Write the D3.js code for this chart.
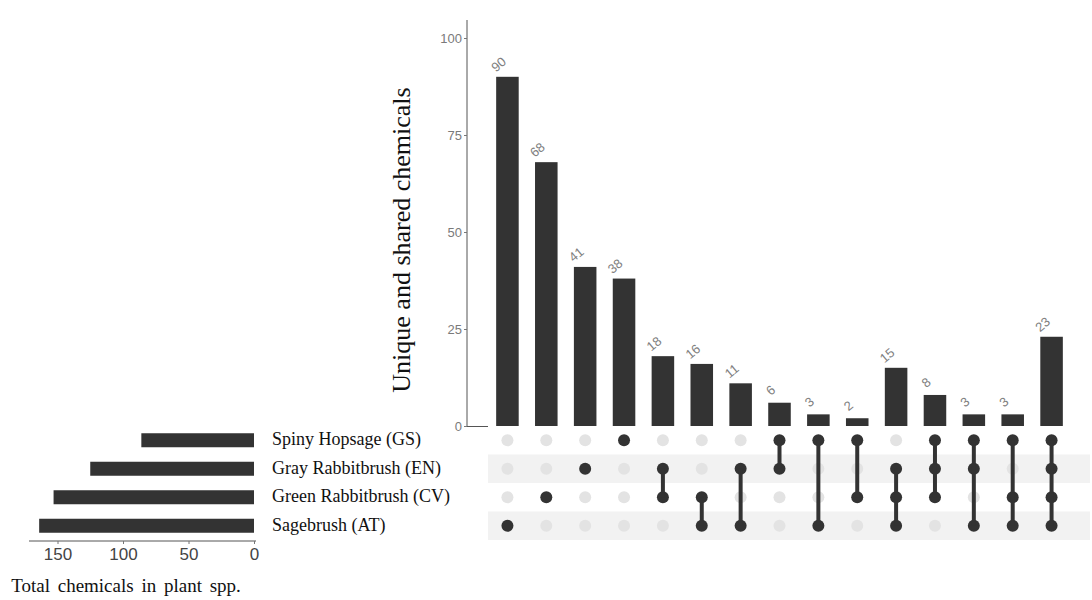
<!DOCTYPE html>
<html><head><meta charset="utf-8">
<script src="https://cdn.jsdelivr.net/npm/d3@7"></script>
<style>body{margin:0;background:#fff}</style>
</head><body>
<svg id="c" width="1092" height="600"></svg>
<script>
const sets = ["Spiny Hopsage (GS)", "Gray Rabbitbrush (EN)", "Green Rabbitbrush (CV)", "Sagebrush (AT)"];
const setKeys = ["GS", "EN", "CV", "AT"];
const setTotals = [86, 125, 153, 164];
const intersections = [["AT"],["CV"],["EN"],["GS"],["EN","CV"],["CV","AT"],["EN","AT"],["GS","EN"],["GS","AT"],["GS","CV"],["EN","CV","AT"],["GS","EN","CV"],["GS","EN","AT"],["GS","CV","AT"],["GS","EN","CV","AT"]];
const counts = [90, 68, 41, 38, 18, 16, 11, 6, 3, 2, 15, 8, 3, 3, 23];
const yTicks = [0, 25, 50, 75, 100];
const xTicksLeft = [0, 50, 100, 150];

const svg = d3.select("#c");
const dark = "#333333";

// Main bar chart
const x = d3.scaleBand().domain(d3.range(counts.length)).range([488, 1071]).paddingInner(0.42).paddingOuter(0.21);
const y = d3.scaleLinear().domain([0, 100]).range([426, 38]);

const yAx = svg.append("g").attr("transform","translate(467,0)")
  .call(d3.axisLeft(y).tickValues(yTicks).tickSize(3).tickPadding(2));
yAx.select(".domain").attr("stroke","#555").attr("d","M0,20V426");
yAx.selectAll(".tick line").attr("stroke","#777");
yAx.selectAll(".tick text").attr("fill","#7a7a7a").style("font-family","Liberation Sans, Arial").style("font-size","13px");

svg.append("line").attr("x1",467).attr("x2",1090).attr("y1",426.5).attr("y2",426.5).attr("stroke","#555");

svg.selectAll("rect.bar").data(counts).enter().append("rect")
  .attr("x",(d,i)=>x(i)).attr("width",x.bandwidth())
  .attr("y",d=>y(d)).attr("height",d=>y(0)-y(d)).attr("fill",dark);

svg.selectAll("text.cnt").data(counts).enter().append("text")
  .attr("transform",(d,i)=>`translate(${x(i)+x.bandwidth()/2 - 6},${y(d)-9}) rotate(-40)`)
  .attr("text-anchor","middle")
  .attr("fill","#808080").style("font-family","Liberation Sans, Arial").style("font-size","13px")
  .text(d=>d);

svg.append("text").attr("transform","translate(410,240) rotate(-90)")
  .attr("text-anchor","middle").style("font-family","Liberation Serif, Times New Roman, serif")
  .style("font-size","26px").attr("fill","#111").text("Unique and shared chemicals");

// Matrix
const r = d3.scaleBand().domain(setKeys).range([426, 540]).paddingOuter(0);
const rowY = k => r(k) + r.bandwidth()/2;
svg.selectAll("rect.stripe").data(setKeys).enter().append("rect")
  .attr("x",488).attr("width",602).attr("y",k=>r(k)).attr("height",r.bandwidth())
  .attr("fill",(k,i)=> i%2===1 ? "#f2f2f2" : "#ffffff");

intersections.forEach((inter,i)=>{
  const cx = x(i)+x.bandwidth()/2;
  setKeys.forEach(k=>{
    svg.append("circle").attr("cx",cx).attr("cy",rowY(k)).attr("r",6)
      .attr("fill", inter.includes(k) ? dark : "#e3e3e3");
  });
  if (inter.length>1){
    const ys = inter.map(rowY);
    svg.append("line").attr("x1",cx).attr("x2",cx).attr("y1",d3.min(ys)).attr("y2",d3.max(ys))
      .attr("stroke",dark).attr("stroke-width",4);
  }
});

// Set labels
svg.selectAll("text.setl").data(sets).enter().append("text")
  .attr("x",272).attr("y",(d,i)=>rowY(setKeys[i])+5)
  .style("font-family","Liberation Serif, Times New Roman, serif").style("font-size","18px")
  .attr("fill","#111").text(d=>d);

// Left bars
const xl = d3.scaleLinear().domain([0, 150]).range([254, 57.5]);
svg.selectAll("rect.tot").data(setTotals).enter().append("rect")
  .attr("x",d=>xl(d)).attr("width",d=>xl(0)-xl(d))
  .attr("y",(d,i)=>rowY(setKeys[i])-7).attr("height",14).attr("fill",dark);

const xAx = svg.append("g").attr("transform","translate(0,541)")
  .call(d3.axisBottom(xl).tickValues(xTicksLeft).tickSize(3).tickPadding(4));
xAx.select(".domain").attr("stroke","#555").attr("d","M29,0H256");
xAx.selectAll(".tick line").attr("stroke","#777");
xAx.selectAll(".tick text").attr("fill","#444").style("font-family","Liberation Sans, Arial").style("font-size","17px");

svg.append("text").attr("x",126).attr("y",592).attr("text-anchor","middle")
  .style("font-family","Liberation Serif, Times New Roman, serif").style("font-size","19px")
  .style("word-spacing","3px")
  .attr("fill","#111").text("Total chemicals in plant spp.");
</script>
</body></html>
